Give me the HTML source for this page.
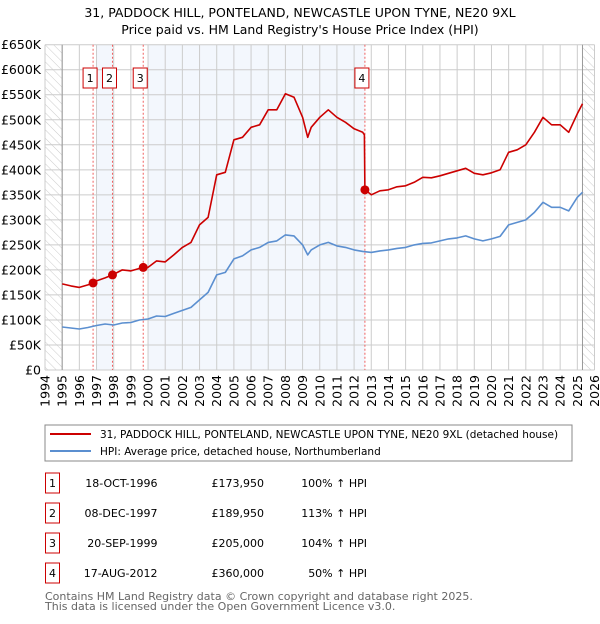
<!DOCTYPE html>
<html><head><meta charset="utf-8"><style>
body{margin:0;background:#fff;font-family:"DejaVu Sans","Liberation Sans",sans-serif;}
svg text{font-family:"DejaVu Sans","Liberation Sans",sans-serif;}
</style></head><body>
<svg id="c" width="600" height="620" xmlns="http://www.w3.org/2000/svg">
<defs><pattern id="hatch" width="6" height="6" patternUnits="userSpaceOnUse" patternTransform="rotate(-45)"><line x1="0" y1="0" x2="0" y2="6" stroke="#ccc" stroke-width="1"/></pattern></defs>
<text x="300" y="17" text-anchor="middle" font-size="12.5" fill="#000">31, PADDOCK HILL, PONTELAND, NEWCASTLE UPON TYNE, NE20 9XL</text>
<text x="300" y="34" text-anchor="middle" font-size="12.5" fill="#000">Price paid vs. HM Land Registry's House Price Index (HPI)</text>
<g id="plot"></g>
<rect x="45" y="425" width="527" height="36" fill="#fff" stroke="#888"/>
<line x1="50" y1="434" x2="91" y2="434" stroke="#cc0000" stroke-width="2"/>
<text x="100" y="438" font-size="10.5">31, PADDOCK HILL, PONTELAND, NEWCASTLE UPON TYNE, NE20 9XL (detached house)</text>
<line x1="50" y1="451" x2="91" y2="451" stroke="#5b8fd0" stroke-width="2"/>
<text x="100" y="455" font-size="10.5">HPI: Average price, detached house, Northumberland</text>
<g id="table" font-size="11"></g>
<text x="45" y="600" font-size="11" fill="#666">Contains HM Land Registry data © Crown copyright and database right 2025.</text>
<text x="45" y="610" font-size="11" fill="#666">This data is licensed under the Open Government Licence v3.0.</text>
</svg>
<script>
const hpiYears=[1995,1995.5,1996,1996.5,1997,1997.5,1998,1998.5,1999,1999.5,2000,2000.5,2001,2001.5,2002,2002.5,2003,2003.5,2004,2004.5,2005,2005.5,2006,2006.5,2007,2007.5,2008,2008.5,2009,2009.3,2009.5,2010,2010.5,2011,2011.5,2012,2012.5,2013,2013.5,2014,2014.5,2015,2015.5,2016,2016.5,2017,2017.5,2018,2018.5,2019,2019.5,2020,2020.5,2021,2021.5,2022,2022.5,2023,2023.5,2024,2024.5,2025,2025.3];
const hpiValues=[86,84,82,85,89,92,90,94,95,100,102,108,107,113,119,125,140,155,190,195,222,228,240,245,255,258,270,268,250,230,240,250,255,248,245,240,237,235,238,240,243,245,250,253,254,258,262,264,268,262,258,262,267,290,295,300,315,335,325,325,318,345,355];
const redYears=[1995,1995.5,1996,1996.5,1996.8,1997,1997.5,1997.93,1998.5,1999,1999.72,2000,2000.5,2001,2001.5,2002,2002.5,2003,2003.5,2004,2004.5,2005,2005.5,2006,2006.5,2007,2007.5,2008,2008.5,2009,2009.3,2009.5,2010,2010.5,2011,2011.5,2012,2012.5,2012.6,2012.63,2013,2013.5,2014,2014.5,2015,2015.5,2016,2016.5,2017,2017.5,2018,2018.5,2019,2019.5,2020,2020.5,2021,2021.5,2022,2022.5,2023,2023.5,2024,2024.5,2025,2025.3];
const redValues=[172,168,165,170,174,178,184,190,200,198,205,205,218,216,230,245,255,290,305,390,395,460,465,485,490,520,520,552,545,505,465,485,505,520,505,495,482,475,470,360,350,358,360,366,368,375,385,384,388,393,398,403,393,390,394,400,435,440,450,475,505,490,490,475,512,532];
const saleYears=[1996.8,1997.93,1999.72,2012.63];
const saleValues=[173950,189950,205000,360000];
const saleLabels=["1","2","3","4"];
const saleDates=["18-OCT-1996","08-DEC-1997","20-SEP-1999","17-AUG-2012"];
const salePrices=["£173,950","£189,950","£205,000","£360,000"];
const salePcts=["100% ↑ HPI","113% ↑ HPI","104% ↑ HPI","50% ↑ HPI"];
const yTicks=[0,50,100,150,200,250,300,350,400,450,500,550,600,650];
const yTickLabels=["£0","£50K","£100K","£150K","£200K","£250K","£300K","£350K","£400K","£450K","£500K","£550K","£600K","£650K"];
const xTicks=[1994,1995,1996,1997,1998,1999,2000,2001,2002,2003,2004,2005,2006,2007,2008,2009,2010,2011,2012,2013,2014,2015,2016,2017,2018,2019,2020,2021,2022,2023,2024,2025,2026];

const NS="http://www.w3.org/2000/svg";
const X0=45,X1=594.5,Y0=370,Y1=44.7;
const xs=y=>X0+(y-1994)/(2026-1994)*(X1-X0);
const ys=k=>Y0-k/650*(Y0-Y1);
const plot=document.getElementById('plot');
function mk(tag,attrs,parent){const e=document.createElementNS(NS,tag);for(const k in attrs)e.setAttribute(k,attrs[k]);(parent||plot).appendChild(e);return e;}

let bg=mk('rect',{x:X0,y:Y1,width:X1-X0,height:Y0-Y1,fill:'#fff'});


let b1=mk('rect',{x:xs(1997),y:Y1,width:xs(saleYears[1])-xs(1997),height:Y0-Y1,fill:'#eef3fc',opacity:0.7});


let b2=mk('rect',{x:xs(2000),y:Y1,width:xs(saleYears[3])-xs(2000),height:Y0-Y1,fill:'#eef3fc',opacity:0.7});


let h1=mk('rect',{x:X0,y:Y1,width:xs(1995)-X0,height:Y0-Y1,fill:'url(#hatch)'});


let h2=mk('rect',{x:xs(2025.3),y:Y1,width:X1-xs(2025.3),height:Y0-Y1,fill:'url(#hatch)'});



yTicks.forEach((t,i)=>{
 let l=mk('line',{x1:X0,x2:X1,y1:ys(t),y2:ys(t),stroke:'#ccc','stroke-width':1});
 
 
 let tx=mk('text',{x:41,y:ys(t)+4.5,'text-anchor':'end','font-size':'12.5',fill:'#000'});
 tx.textContent=yTickLabels[i];
 
 
});
xTicks.forEach(t=>{
 let l=mk('line',{x1:xs(t),x2:xs(t),y1:Y1,y2:Y0,stroke:'#ccc','stroke-width':1});
 
 
 let tx=mk('text',{x:0,y:0,'text-anchor':'end','font-size':'12.5',fill:'#000',transform:`translate(${xs(t)+4.5},375) rotate(-90)`});
 tx.textContent=t;
 
 
});
let a1=mk('line',{x1:xs(1995),x2:xs(1995),y1:Y1,y2:Y0,stroke:'#999'});


let a2=mk('line',{x1:xs(2025.3),x2:xs(2025.3),y1:Y1,y2:Y0,stroke:'#999'});



saleYears.forEach((s,i)=>{
 let l=mk('line',{x1:xs(s),x2:xs(s),y1:Y1,y2:Y0,stroke:'#f06060','stroke-width':1,'stroke-dasharray':'2,2'});
 
 
});

function path(years,vals,color,name){
 let d=years.map((y,i)=>(i?'L':'M')+xs(y).toFixed(1)+','+ys(vals[i]).toFixed(1)).join('');
 let p=mk('path',{d:d,fill:'none',stroke:color,'stroke-width':1.6,'stroke-linejoin':'round'});
 
 
}
path(hpiYears,hpiValues,'#5b8fd0','hpi-line');
path(redYears,redValues,'#cc0000','property-price-line');

saleYears.forEach((s,i)=>{
 let c=mk('circle',{cx:xs(s),cy:ys(saleValues[i]/1000),r:4.5,fill:'#cc0000'});
 
 
 let g=mk('g',{});
 
 
 mk('rect',{x:xs(s)-10,y:68,width:14,height:20,fill:'#fff',stroke:'#cc0000'},g);
 let t=mk('text',{x:xs(s)-3,y:82,'text-anchor':'middle','font-size':'11'},g);
 t.textContent=saleLabels[i];
});

const tb=document.getElementById('table');
const rowY=[483,513,543,573];
saleLabels.forEach((lab,i)=>{
 const y=rowY[i];
 let g=mk('g',{},tb);
 
 
 mk('rect',{x:45.5,y:y-10,width:14,height:20,fill:'#fff',stroke:'#cc0000'},g);
 let t0=mk('text',{x:52.5,y:y+4,'text-anchor':'middle'},g);t0.textContent=lab;
 let t1=mk('text',{x:157.5,y:y+4,'text-anchor':'end'},g);t1.textContent=saleDates[i];
 let t2=mk('text',{x:264,y:y+4,'text-anchor':'end'},g);t2.textContent=salePrices[i];
 let t3=mk('text',{x:367,y:y+4,'text-anchor':'end'},g);t3.textContent=salePcts[i];
});
</script>
</body></html>
